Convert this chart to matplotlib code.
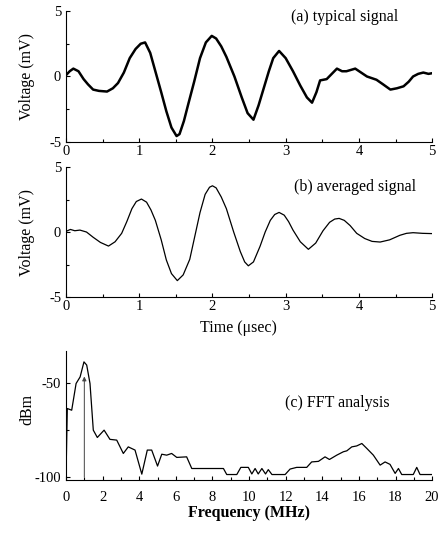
import matplotlib
matplotlib.use("Agg")
import matplotlib.pyplot as plt
from matplotlib.ticker import MultipleLocator

plt.rcParams['font.family'] = ['Liberation Serif', 'DejaVu Serif']
plt.rcParams['axes.unicode_minus'] = False
plt.rcParams['font.size'] = 11

# (a) typical signal, time in usec, voltage in mV
t_a = [0.0, 0.05, 0.1, 0.17, 0.24, 0.3, 0.37, 0.45, 0.56, 0.64, 0.71, 0.79, 0.87, 0.95, 1.02,
       1.08, 1.15, 1.22, 1.3, 1.37, 1.44, 1.51, 1.55, 1.61, 1.67, 1.75, 1.83, 1.91, 1.99, 2.05,
       2.12, 2.19, 2.3, 2.4, 2.48, 2.56, 2.63, 2.7, 2.77, 2.83, 2.91, 3.0, 3.1, 3.2, 3.29, 3.36,
       3.42, 3.47, 3.56, 3.63, 3.7, 3.77, 3.83, 3.95, 4.03, 4.11, 4.24, 4.33, 4.43, 4.52, 4.61,
       4.68, 4.74, 4.81, 4.88, 4.95, 5.0]
v_a = [0.1, 0.4, 0.6, 0.4, -0.2, -0.6, -1.0, -1.1, -1.15, -0.9, -0.5, 0.3, 1.4, 2.1, 2.5,
       2.6, 1.8, 0.4, -1.2, -2.65, -3.9, -4.55, -4.4, -3.4, -2.1, -0.4, 1.4, 2.6, 3.1, 2.9,
       2.3, 1.5, 0.0, -1.6, -2.8, -3.3, -2.2, -0.9, 0.4, 1.4, 1.95, 1.4, 0.4, -0.7, -1.6, -2.0,
       -1.2, -0.3, -0.2, 0.2, 0.6, 0.4, 0.4, 0.6, 0.3, 0.0, -0.25, -0.6, -1.0, -0.9, -0.75,
       -0.4, 0.0, 0.2, 0.3, 0.2, 0.25]

# (b) averaged signal
t_b = [0.0, 0.06, 0.12, 0.19, 0.28, 0.37, 0.47, 0.58, 0.67, 0.76, 0.83, 0.9, 0.96, 1.03,
       1.1, 1.16, 1.22, 1.3, 1.37, 1.44, 1.52, 1.6, 1.69, 1.76, 1.83, 1.9, 1.96, 2.0, 2.05,
       2.12, 2.19, 2.29, 2.38, 2.44, 2.49, 2.56, 2.65, 2.72, 2.79, 2.85, 2.91, 2.98, 3.04,
       3.1, 3.2, 3.31, 3.41, 3.51, 3.6, 3.67, 3.73, 3.8, 3.88, 3.97, 4.08, 4.18, 4.29, 4.42,
       4.56, 4.65, 4.74, 4.87, 5.0]
v_b = [0.05, 0.2, 0.1, 0.15, 0.0, -0.4, -0.8, -1.08, -0.75, -0.1, 0.8, 1.8, 2.35, 2.54,
       2.3, 1.7, 0.9, -0.6, -2.15, -3.2, -3.74, -3.3, -2.1, -0.3, 1.5, 2.9, 3.45, 3.56, 3.4,
       2.7, 1.8, 0.0, -1.5, -2.3, -2.6, -2.3, -1.1, 0.0, 0.9, 1.35, 1.51, 1.3, 0.8,
       0.15, -0.75, -1.33, -0.85, 0.1, 0.75, 1.0, 1.05, 0.9, 0.5, -0.1, -0.5, -0.72, -0.77, -0.6,
       -0.25, -0.1, -0.05, -0.1, -0.12]

# (c) FFT analysis, frequency in MHz, level in dBm
f_c = [0.0, 0.07, 0.31, 0.55, 0.77, 0.98, 1.13, 1.31, 1.49, 1.71, 2.08, 2.4, 2.77, 3.13,
       3.4, 3.77, 4.14, 4.44, 4.68, 5.0, 5.23, 5.5, 5.77, 6.05, 6.59, 6.87, 8.6, 8.78, 9.33,
       9.55, 9.96, 10.15, 10.33, 10.5, 10.7, 10.9, 11.05, 11.25, 11.97, 12.24, 12.6, 13.15,
       13.42, 13.79, 14.15, 14.39, 14.79, 15.15, 15.34, 15.61, 15.88, 16.16, 16.43, 16.79,
       17.16, 17.43, 17.7, 17.98, 18.16, 18.34, 18.97, 19.16, 19.34, 20.0]
p_c = [-99.0, -63.5, -64.4, -50.2, -46.7, -38.7, -40.4, -50.2, -75.0, -78.9, -75.0, -79.9,
       -80.3, -87.4, -83.9, -85.6, -98.4, -85.6, -85.6, -94.1, -87.8, -88.3, -87.4, -89.5,
       -89.2, -95.4, -95.4, -98.6, -98.6, -94.8, -94.8, -98.3, -95.4, -98.3, -95.4, -98.3,
       -96.0, -98.6, -98.6, -95.7, -94.8, -94.8, -91.9, -91.6, -89.2, -90.6, -88.3, -86.5,
       -86.0, -83.9, -83.4, -82.1, -84.7, -88.3, -93.6, -91.9, -93.2, -98.0, -95.4, -98.6,
       -98.6, -94.8, -98.6, -98.6]

marker_freq = 1.0
marker_level = -45.0

fig = plt.figure(figsize=(4.47, 5.39), dpi=100)
ax_a = fig.add_axes([0.1477, 0.7366, 0.819, 0.243])
ax_b = fig.add_axes([0.1477, 0.449, 0.819, 0.241])
ax_c = fig.add_axes([0.1477, 0.1095, 0.819, 0.239])

for ax in (ax_a, ax_b, ax_c):
    ax.spines['top'].set_visible(False)
    ax.spines['right'].set_visible(False)
    ax.tick_params(direction='in', length=3, width=0.8, labelsize=10.5)
    ax.tick_params(which='minor', direction='in', length=2, width=0.8)

ax_a.plot(t_a, v_a, color='black', lw=1.8, solid_joinstyle='round')
ax_b.plot(t_b, v_b, color='black', lw=0.9)
for ax in (ax_a, ax_b):
    ax.set_xlim(0, 5)
    ax.set_ylim(-5, 5)
    ax.set_xticks([0, 1, 2, 3, 4, 5])
    ax.xaxis.set_minor_locator(MultipleLocator(0.5))
    ax.set_yticks([-5, 0, 5])
    ax.yaxis.set_minor_locator(MultipleLocator(2.5))
    ax.set_ylabel('Voltage (mV)', fontsize=11.5)
    ax.yaxis.set_label_coords(-0.085, 0.5)
    ax.tick_params(axis='x', pad=2)

ax_a.text(0.76, 0.955, '(a) typical signal', transform=ax_a.transAxes,
          ha='center', va='center', fontsize=11.5)
ax_b.text(0.79, 0.85, '(b) averaged signal', transform=ax_b.transAxes,
          ha='center', va='center', fontsize=11.5)
ax_b.set_xlabel('Time (\u03bcsec)', fontsize=11.5)
ax_b.xaxis.set_label_coords(0.47, -0.18)

ax_c.plot(f_c, p_c, color='black', lw=0.9)
ax_c.annotate('', xy=(marker_freq, marker_level), xytext=(marker_freq, -101.5),
              arrowprops=dict(arrowstyle='-|>', color='#444444', lw=0.7,
                              mutation_scale=6))
ax_c.set_xlim(0, 20)
ax_c.set_ylim(-101.5, -33)
ax_c.set_xticks(range(0, 21, 2))
ax_c.xaxis.set_minor_locator(MultipleLocator(1))
ax_c.set_yticks([-50, -100])
ax_c.yaxis.set_minor_locator(MultipleLocator(25))
ax_c.tick_params(axis='x', pad=8)
ax_c.set_ylabel('dBm', fontsize=11.5)
ax_c.yaxis.set_label_coords(-0.085, 0.55)
ax_c.set_xlabel('Frequency (MHz)', fontsize=11.5, fontweight='bold', labelpad=1)
ax_c.text(0.742, 0.60, '(c) FFT analysis', transform=ax_c.transAxes,
          ha='center', va='center', fontsize=11.5)

fig.savefig('out.png', dpi=100)
